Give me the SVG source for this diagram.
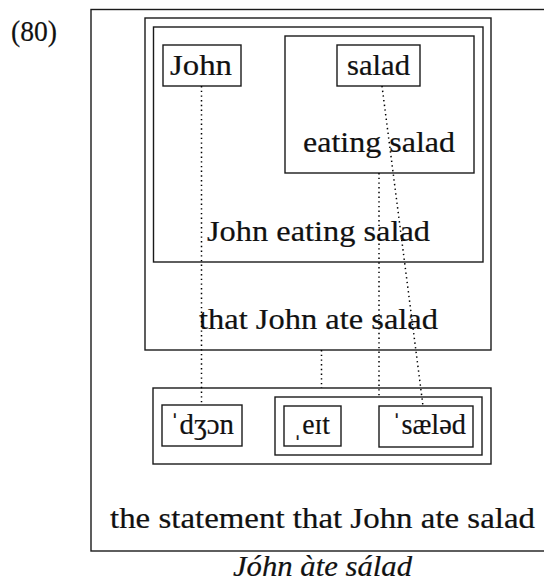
<svg xmlns="http://www.w3.org/2000/svg" width="544" height="586" viewBox="0 0 544 586">
  <style>
    .box { fill: none; stroke: #1a1a1a; stroke-width: 1.4; }
    .lbl { font-family: "Liberation Serif", "Times New Roman", serif; font-size: 29px; fill: #111; stroke: #111; stroke-width: 0.2; }
    .it { font-style: italic; }
    .link { stroke: #000; stroke-width: 1.5; stroke-dasharray: 1.4 3.3; fill: none; }
  </style>
  <rect width="544" height="586" fill="#fff"/>

  <text class="lbl" x="11" y="41" textLength="46" lengthAdjust="spacingAndGlyphs">(80)</text>

  <!-- nested meaning boxes -->
  <g id="statement">
    <rect class="box" x="91" y="9.5" width="455" height="541.5"/>
    <text class="lbl" x="110" y="528" textLength="425" lengthAdjust="spacingAndGlyphs">the statement that John ate salad</text>
  </g>
  <g id="that-john-ate-salad">
    <rect class="box" x="145" y="18" width="346" height="332"/>
    <text class="lbl" x="199" y="329" textLength="239" lengthAdjust="spacingAndGlyphs">that John ate salad</text>
  </g>
  <g id="john-eating-salad">
    <rect class="box" x="153.5" y="27" width="329.5" height="235"/>
    <text class="lbl" x="207" y="241" textLength="223" lengthAdjust="spacingAndGlyphs">John eating salad</text>
  </g>
  <g id="eating-salad">
    <rect class="box" x="285" y="36" width="189" height="137"/>
    <text class="lbl" x="303" y="152" textLength="152" lengthAdjust="spacingAndGlyphs">eating salad</text>
  </g>
  <g id="john">
    <rect class="box" x="163" y="45" width="78" height="41"/>
    <text class="lbl" x="170" y="74.5" textLength="62" lengthAdjust="spacingAndGlyphs">John</text>
  </g>
  <g id="salad">
    <rect class="box" x="337" y="45" width="83" height="41"/>
    <text class="lbl" x="347" y="74.5" textLength="63" lengthAdjust="spacingAndGlyphs">salad</text>
  </g>

  <!-- phonological boxes -->
  <g id="phon-sentence">
    <rect class="box" x="153" y="388" width="338" height="76"/>
  </g>
  <g id="phon-vp">
    <rect class="box" x="275" y="397" width="207" height="58"/>
  </g>
  <g id="phon-john">
    <rect class="box" x="162" y="405" width="80" height="41"/>
    <text class="lbl" x="170" y="434" textLength="64" lengthAdjust="spacingAndGlyphs">ˈdʒɔn</text>
  </g>
  <g id="phon-ate">
    <rect class="box" x="284" y="406" width="57" height="40"/>
    <text class="lbl" x="293" y="434" textLength="37" lengthAdjust="spacingAndGlyphs">ˌeɪt</text>
  </g>
  <g id="phon-salad">
    <rect class="box" x="379" y="406" width="94" height="41"/>
    <text class="lbl" x="392" y="434" textLength="74" lengthAdjust="spacingAndGlyphs">ˈsæləd</text>
  </g>

  <!-- correspondence links -->
  <g id="links">
    <line class="link" x1="201.5" y1="86" x2="201.5" y2="405"/>
    <line class="link" x1="382" y1="86" x2="423" y2="406"/>
    <line class="link" x1="379" y1="173" x2="379" y2="397"/>
    <line class="link" x1="321.5" y1="350" x2="321.5" y2="388"/>
  </g>

  <text class="lbl it" x="233" y="576" textLength="179" lengthAdjust="spacingAndGlyphs">Jóhn àte sálad</text>
</svg>
